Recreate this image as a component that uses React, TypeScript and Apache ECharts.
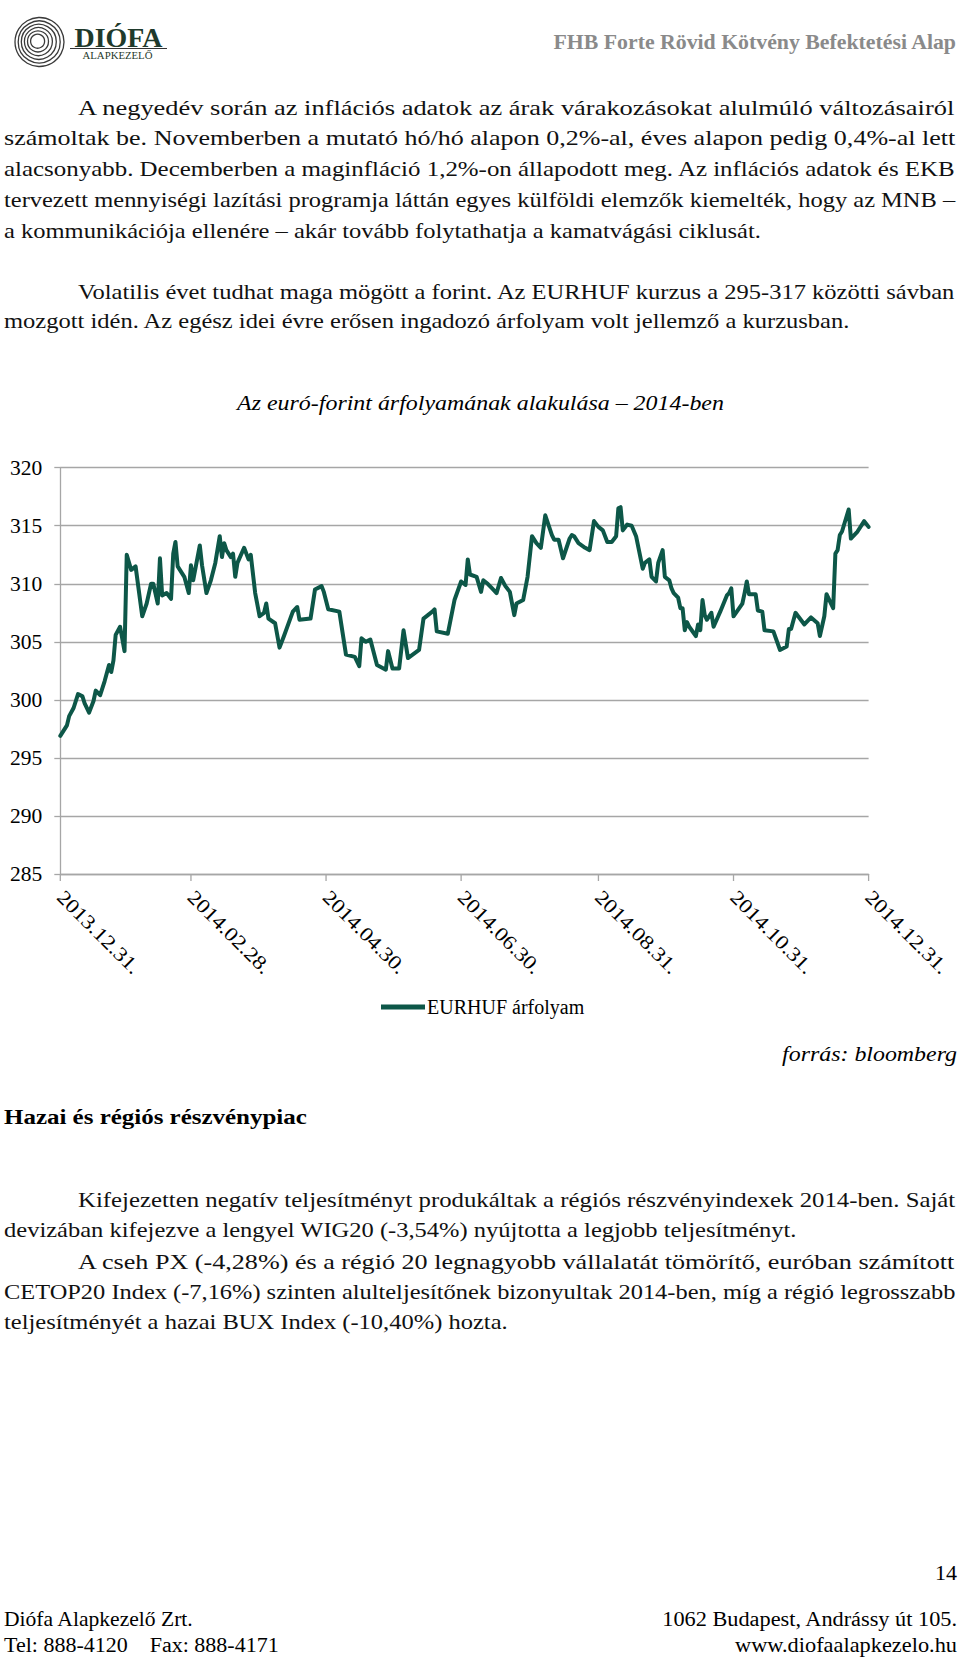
import React, { useEffect, useRef } from "react";
import * as echarts from "echarts";

// ---------- data ----------
const seriesName = "EURHUF árfolyam";

const dates: string[] = [
  "2013-12-31",
  "2014-01-03","2014-01-04","2014-01-06","2014-01-08","2014-01-10","2014-01-11","2014-01-13","2014-01-15","2014-01-16","2014-01-18","2014-01-20","2014-01-22","2014-01-23","2014-01-24","2014-01-25","2014-01-27","2014-01-29","2014-01-30",
  "2014-02-01","2014-02-03","2014-02-06","2014-02-08","2014-02-10","2014-02-11","2014-02-13","2014-02-14","2014-02-15","2014-02-17","2014-02-19","2014-02-20","2014-02-21","2014-02-22","2014-02-25","2014-02-27","2014-02-28",
  "2014-03-01","2014-03-04","2014-03-05","2014-03-07","2014-03-09","2014-03-11","2014-03-13","2014-03-14","2014-03-15","2014-03-16","2014-03-18","2014-03-19","2014-03-20","2014-03-21","2014-03-24","2014-03-26","2014-03-27","2014-03-29","2014-03-31",
  "2014-04-02","2014-04-03","2014-04-04","2014-04-07","2014-04-09","2014-04-11","2014-04-15","2014-04-17","2014-04-18","2014-04-23","2014-04-25","2014-04-28","2014-04-29",
  "2014-05-01","2014-05-06","2014-05-09","2014-05-13","2014-05-15","2014-05-16","2014-05-18","2014-05-20","2014-05-23","2014-05-27","2014-05-28","2014-05-30",
  "2014-06-02","2014-06-04","2014-06-06","2014-06-11","2014-06-13","2014-06-17","2014-06-18","2014-06-19","2014-06-24","2014-06-27","2014-06-30",
  "2014-07-02","2014-07-03","2014-07-04","2014-07-07","2014-07-09","2014-07-10","2014-07-12","2014-07-14","2014-07-16","2014-07-18","2014-07-20","2014-07-22","2014-07-24","2014-07-25","2014-07-28","2014-07-30",
  "2014-08-01","2014-08-03","2014-08-05","2014-08-07","2014-08-10","2014-08-11","2014-08-13","2014-08-15","2014-08-18","2014-08-19","2014-08-20","2014-08-22","2014-08-25","2014-08-27","2014-08-29","2014-08-31",
  "2014-09-02","2014-09-04","2014-09-06","2014-09-08","2014-09-09","2014-09-10","2014-09-11","2014-09-13","2014-09-15","2014-09-17","2014-09-20","2014-09-21","2014-09-23","2014-09-24","2014-09-26","2014-09-27","2014-09-29","2014-09-30",
  "2014-10-02","2014-10-03","2014-10-04","2014-10-06","2014-10-07","2014-10-08","2014-10-09","2014-10-10","2014-10-11","2014-10-14","2014-10-15","2014-10-16","2014-10-17","2014-10-18","2014-10-19","2014-10-21","2014-10-22","2014-10-25","2014-10-28","2014-10-29","2014-10-30","2014-10-31",
  "2014-11-04","2014-11-05","2014-11-06","2014-11-07","2014-11-10","2014-11-11","2014-11-13","2014-11-14","2014-11-18","2014-11-21","2014-11-24","2014-11-25","2014-11-26","2014-11-28",
  "2014-12-02","2014-12-05","2014-12-08","2014-12-09","2014-12-11","2014-12-12","2014-12-15","2014-12-16","2014-12-17","2014-12-18","2014-12-19","2014-12-22","2014-12-23","2014-12-26","2014-12-29","2014-12-31",
];

const eurhuf: number[] = [
  296.9,
  297.8, 298.6, 299.3, 300.5, 300.3, 299.7, 298.9, 299.9, 300.8, 300.4, 301.6, 303.0, 302.4, 303.4, 305.6, 306.3, 304.2, 312.5,
  311.2, 311.5, 307.2, 308.3, 310.0, 310.0, 308.3, 312.2, 309.0, 309.2, 308.7, 312.6, 313.6, 311.5, 310.6, 309.2, 311.6,
  310.3, 313.3, 311.6, 309.2, 310.3, 311.8, 314.1, 312.3, 313.5, 312.9, 312.3, 312.6, 310.6, 311.8, 313.1, 312.1, 312.5, 309.2, 307.2,
  307.5, 308.3, 307.0, 306.6, 304.5, 305.5, 307.6, 308.0, 306.9, 307.0, 309.5, 309.8, 309.3,
  307.8, 307.6, 303.9, 303.7, 302.9, 305.3, 305.0, 305.2, 303.0, 302.6, 304.2, 302.7,
  302.7, 306.0, 303.6, 304.3, 307.0, 307.6, 307.8, 305.9, 305.7, 308.6, 310.2,
  309.9, 312.1, 310.8, 310.6, 309.3, 310.3, 310.0, 309.6, 309.2, 310.5, 309.8, 309.3, 307.3, 308.3, 308.6, 310.6,
  314.1, 313.5, 313.1, 315.9, 314.2, 313.8, 313.8, 312.2, 313.9, 314.2, 314.1, 313.5, 313.1, 312.9, 315.4, 314.9,
  314.6, 313.6, 313.6, 314.1, 316.5, 316.6, 314.6, 315.1, 315.0, 314.1, 311.3, 311.8, 312.1, 310.6, 310.2, 311.8, 312.9, 310.6,
  310.3, 309.6, 309.2, 308.8, 307.9, 307.9, 306.0, 306.7, 306.3, 305.5, 306.5, 306.0, 308.6, 307.3, 306.9, 307.5, 306.3, 307.6, 309.0, 309.2, 309.6, 307.2,
  308.3, 309.2, 310.2, 309.1, 309.1, 307.7, 307.6, 306.0, 305.9, 304.3, 304.6, 306.1, 306.1, 307.5,
  306.5, 307.1, 306.6, 305.5, 307.2, 309.1, 307.9, 312.6, 312.9, 314.2, 314.5, 316.4, 313.9, 314.5, 315.4, 314.9,
];

const xTickDates: string[] = ["2013-12-31", "2014-02-28", "2014-04-30", "2014-06-30", "2014-08-31", "2014-10-31", "2014-12-31"];
const yMin = 285;
const yMax = 320;
const yStep = 5;

const chartTitle = "Az euró-forint árfolyamának alakulása – 2014-ben";
const sourceText = "forrás: bloomberg";
const headerTitle = "FHB Forte Rövid Kötvény Befektetési Alap";

// [text, justified]
const para1: [string, boolean][] = [
  ["A negyedév során az inflációs adatok az árak várakozásokat alulmúló változásairól", true],
  ["számoltak be. Novemberben a mutató hó/hó alapon 0,2%-al, éves alapon pedig 0,4%-al lett", true],
  ["alacsonyabb. Decemberben a maginfláció 1,2%-on állapodott meg. Az inflációs adatok és EKB", true],
  ["tervezett mennyiségi lazítási programja láttán egyes külföldi elemzők kiemelték, hogy az MNB –", true],
  ["a kommunikációja ellenére – akár tovább folytathatja a kamatvágási ciklusát.", false],
];
const para2: [string, boolean][] = [
  ["Volatilis évet tudhat maga mögött a forint. Az EURHUF kurzus a 295-317 közötti sávban", true],
  ["mozgott idén. Az egész idei évre erősen ingadozó árfolyam volt jellemző a kurzusban.", false],
];
const heading2 = "Hazai és régiós részvénypiac";
const para3: [string, boolean][] = [
  ["Kifejezetten negatív teljesítményt produkáltak a régiós részvényindexek 2014-ben. Saját", true],
  ["devizában kifejezve a lengyel WIG20 (-3,54%) nyújtotta a legjobb teljesítményt.", false],
  ["A cseh PX (-4,28%) és a régió 20 legnagyobb vállalatát tömörítő, euróban számított", true],
  ["CETOP20 Index (-7,16%) szinten alulteljesítőnek bizonyultak 2014-ben, míg a régió legrosszabb", true],
  ["teljesítményét a hazai BUX Index (-10,40%) hozta.", false],
];
const footerLeft: string[] = ["Diófa Alapkezelő Zrt.", "Tel: 888-4120\u00a0\u00a0\u00a0\u00a0Fax: 888-4171"];
const footerRight: string[] = ["1062 Budapest, Andrássy út 105.", "www.diofaalapkezelo.hu"];
const pageNumber = "14";

// ---------- helpers ----------
const FAMILY = "Liberation Serif";
const FONT = '"Liberation Serif", "DejaVu Serif", serif';
const LINE_COLOR = "#0d5748";
const GRID_COLOR = "#a6a6a6";
const STRETCH = 1.115; // width ratio of the original typeface to the substitute
const RIGHT = 956;

function ts(s: string): number {
  const [y, m, d] = s.split("-").map(Number);
  return new Date(y, m - 1, d).getTime();
}
function fmtDate(v: number): string {
  const d = new Date(v);
  const mm = String(d.getMonth() + 1).padStart(2, "0");
  const dd = String(d.getDate()).padStart(2, "0");
  return `${d.getFullYear()}.${mm}.${dd}.`;
}

let measureCtx: CanvasRenderingContext2D | null = null;
function measure(text: string, size: number, weight: string, style: string): number {
  if (!measureCtx) measureCtx = document.createElement("canvas").getContext("2d");
  if (!measureCtx) return text.length * size * 0.45;
  measureCtx.font = `${style} ${weight} ${size}px "${FAMILY}"`;
  return measureCtx.measureText(text).width;
}

function txt(text: string, x: number, y: number, o: any = {}) {
  const align = o.align || "left";
  const size = o.size || 22;
  const weight = o.weight || "normal";
  const fstyle = o.style || "normal";
  let sx = o.scaleX ?? STRETCH;
  if (o.fitWidth) sx = o.fitWidth / measure(text, size, weight, fstyle);
  return {
    type: "text",
    x,
    y,
    rotation: o.rotation || 0,
    scaleX: sx,
    scaleY: 1,
    silent: true,
    style: {
      text,
      fontFamily: FONT,
      fontSize: size,
      fontWeight: weight,
      fontStyle: fstyle,
      fill: o.color || "#111",
      align,
      textAlign: align,
      verticalAlign: "middle",
      textVerticalAlign: "middle",
    },
  };
}

function paragraph(lines: [string, boolean][], ys: number[], indentFirst: boolean[], out: any[]) {
  lines.forEach(([l, just], i) => {
    const x = indentFirst[i] ? 78 : 4;
    out.push(txt(l, x, ys[i], just ? { fitWidth: RIGHT - x } : {}));
  });
}

export default function App() {
  const ref = useRef<HTMLDivElement>(null);

  useEffect(() => {
    if (!ref.current) return;
    const chart = echarts.init(ref.current, undefined, { renderer: "svg" });

    const data = dates.map((d, i) => [ts(d), eurhuf[i]]);
    const tickVals = xTickDates.map(ts);

    const graphic: any[] = [];
    // logo rings
    const rings = [
      [39.5, 42, 24.5],
      [39.2, 42, 21],
      [38.8, 41.8, 17.5],
      [38.4, 41.6, 14],
      [38.0, 41.4, 10.5],
      [37.6, 41.2, 7],
    ];
    rings.forEach(([cx, cy, r]) =>
      graphic.push({
        type: "circle",
        silent: true,
        shape: { cx, cy, r },
        style: { fill: "none", stroke: "#3a3a3a", lineWidth: 1.3 },
      })
    );
    graphic.push(txt("DIÓFA", 118.5, 38, { size: 27, weight: "bold", color: "#1f3a2c", align: "center", fitWidth: 88 }));
    graphic.push({
      type: "line",
      silent: true,
      shape: { x1: 70, y1: 48.5, x2: 167, y2: 48.5 },
      style: { stroke: "#333", lineWidth: 1 },
    });
    graphic.push(txt("ALAPKEZELŐ", 117.5, 56, { size: 10.5, color: "#1f3a2c", align: "center", fitWidth: 70 }));
    graphic.push(txt(headerTitle, RIGHT, 42.5, { size: 21.5, weight: "bold", color: "#8a8a8a", align: "right", fitWidth: 404 }));

    // paragraphs above the chart
    paragraph(para1, [107.2, 138, 168.7, 199.5, 230.2], [true, false, false, false, false], graphic);
    paragraph(para2, [291.2, 320], [true, false], graphic);

    // chart title & source
    graphic.push(txt(chartTitle, 480.5, 403, { size: 21, style: "italic", color: "#000", align: "center", fitWidth: 487 }));
    graphic.push(txt(sourceText, 957, 1054, { size: 21, style: "italic", color: "#000", align: "right", fitWidth: 175 }));

    // section 2
    graphic.push(txt(heading2, 4, 1116.5, { weight: "bold", color: "#000", fitWidth: 303 }));
    paragraph(para3, [1199.7, 1229.7, 1261, 1291, 1321], [true, false, true, false, false], graphic);

    // footer
    graphic.push(txt(pageNumber, 957, 1573, { size: 20, align: "right", color: "#000", scaleX: 1.1 }));
    graphic.push(txt(footerLeft[0], 4, 1619, { size: 20, color: "#000", scaleX: 1.08 }));
    graphic.push(txt(footerLeft[1], 4, 1645, { size: 20, color: "#000", fitWidth: 275 }));
    graphic.push(txt(footerRight[0], 957, 1619, { size: 20, align: "right", color: "#000", fitWidth: 296 }));
    graphic.push(txt(footerRight[1], 957, 1645, { size: 20, align: "right", color: "#000", fitWidth: 222 }));

    chart.setOption({
      animation: false,
      backgroundColor: "#ffffff",
      grid: { left: 60.3, top: 467.7, width: 808.3, height: 406.3 },
      xAxis: {
        type: "value",
        min: tickVals[0],
        max: tickVals[tickVals.length - 1],
        axisLine: { show: true, lineStyle: { color: GRID_COLOR, width: 1.3 } },
        axisTick: { show: false },
        axisLabel: { show: false },
        splitLine: { show: false },
      },
      yAxis: {
        type: "value",
        min: yMin,
        max: yMax,
        interval: yStep,
        axisLine: { show: true, lineStyle: { color: GRID_COLOR, width: 1.3 } },
        axisTick: { show: true, length: 6, lineStyle: { color: GRID_COLOR, width: 1.3 } },
        axisLabel: { fontSize: 21.5, fontFamily: FONT, color: "#000", margin: 18 },
        splitLine: { show: true, lineStyle: { color: GRID_COLOR, width: 1.3 } },
      },
      legend: {
        data: [seriesName],
        left: 376,
        top: 992,
        icon: "rect",
        itemWidth: 44,
        itemHeight: 5,
        itemGap: 10,
        textStyle: { fontSize: 20, fontFamily: FONT, color: "#000", padding: [0, 0, 0, -3] },
      },
      series: [
        {
          type: "line",
          name: seriesName,
          data,
          showSymbol: false,
          symbol: "none",
          lineStyle: { color: LINE_COLOR, width: 4, join: "round", cap: "round" },
          itemStyle: { color: LINE_COLOR },
        },
      ],
      graphic,
    });

    // x-axis ticks and rotated date labels, placed through the axis scale
    const axisY = chart.convertToPixel({ yAxisIndex: 0 }, yMin) as number;
    tickVals.forEach((v) => {
      const px = chart.convertToPixel({ xAxisIndex: 0 }, v) as number;
      graphic.push({
        type: "line",
        silent: true,
        shape: { x1: px, y1: axisY, x2: px, y2: axisY + 7 },
        style: { stroke: GRID_COLOR, lineWidth: 1.3 },
      });
      graphic.push(txt(fmtDate(v), px, axisY + 20, { size: 20, color: "#000", rotation: -Math.PI / 4, scaleX: 1.14 }));
    });
    chart.setOption({ graphic }, { replaceMerge: ["graphic"] });

    return () => chart.dispose();
  }, []);

  return (
    <div
      ref={ref}
      style={{ position: "absolute", left: 0, top: 0, width: 960, height: 1658, background: "#fff" }}
    />
  );
}
